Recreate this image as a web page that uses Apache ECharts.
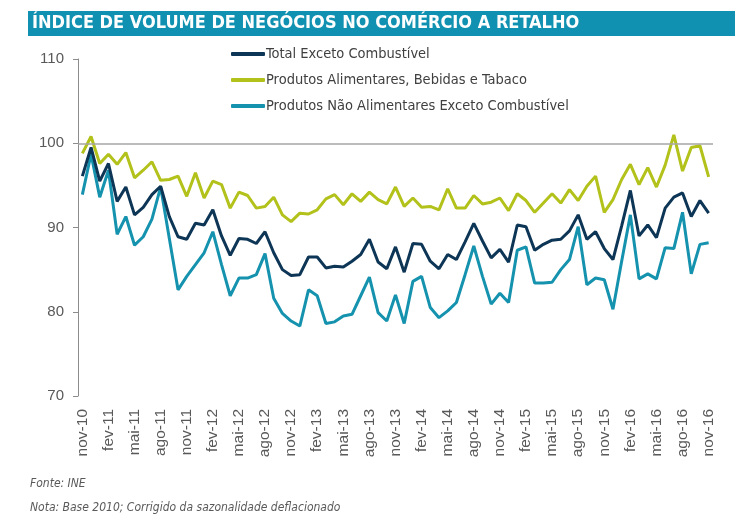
<!DOCTYPE html>
<html>
<head>
<meta charset="utf-8">
<script src="https://cdn.jsdelivr.net/npm/echarts@6/dist/echarts.min.js"></script>
<style>
html,body{margin:0;padding:0;background:#fff;}
#chart{width:742px;height:514px;}
</style>
</head>
<body>
<div id="chart"></div>
<script>
var monthNames = ['jan','fev','mar','abr','mai','jun','jul','ago','set','out','nov','dez'];
var startMonth = 10, startYear = 10, monthCount = 73;

var totalExceto = [96.1,99.5,95.5,97.6,93.1,94.8,91.5,92.4,93.9,94.9,91.3,88.9,88.6,90.5,90.3,92.1,89.0,86.7,88.7,88.6,88.1,89.5,87.0,85.0,84.3,84.4,86.5,86.5,85.2,85.4,85.3,86.0,86.8,88.6,85.9,85.1,87.7,84.7,88.1,88.0,86.0,85.1,86.8,86.2,88.3,90.5,88.4,86.4,87.4,85.9,90.3,90.1,87.3,88.0,88.5,88.6,89.6,91.5,88.6,89.5,87.5,86.2,90.2,94.4,89.0,90.3,88.8,92.3,93.6,94.1,91.3,93.2,91.7];
var alimentares = [98.8,100.8,97.6,98.7,97.5,98.9,95.9,96.8,97.8,95.6,95.7,96.1,93.7,96.5,93.5,95.5,95.1,92.3,94.2,93.8,92.3,92.5,93.6,91.5,90.7,91.7,91.6,92.1,93.4,93.9,92.7,94.0,93.1,94.2,93.3,92.8,94.8,92.5,93.5,92.4,92.5,92.1,94.6,92.3,92.3,93.8,92.8,93.0,93.5,92.0,94.0,93.2,91.8,92.9,94.0,92.9,94.5,93.2,94.9,96.1,91.8,93.3,95.7,97.5,95.1,97.1,94.8,97.4,101.0,96.7,99.5,99.7,96.0];
var naoAlimentares = [93.9,98.7,93.6,96.8,89.2,91.3,87.9,88.9,91.0,94.8,88.7,82.6,84.2,85.6,87.0,89.5,85.6,81.9,84.0,84.0,84.4,86.9,81.6,79.8,78.9,78.3,82.6,81.9,78.6,78.8,79.5,79.7,81.9,84.1,79.9,78.9,82.0,78.6,83.6,84.2,80.5,79.3,80.1,81.1,84.4,87.8,84.2,80.9,82.2,81.1,87.3,87.7,83.4,83.4,83.5,85.0,86.2,90.1,83.2,84.0,83.8,80.3,86.0,91.5,83.9,84.5,83.9,87.6,87.5,91.8,84.5,88.0,88.2];

var seriesNames = ['Total Exceto Combustível','Produtos Alimentares, Bebidas e Tabaco','Produtos Não Alimentares Exceto Combustível'];
var seriesColors = ['#0d3556','#b3c11b','#1592ae'];
var yTicks = {min:70, max:110, interval:10};
var titleText = 'ÍNDICE DE VOLUME DE NEGÓCIOS NO COMÉRCIO A RETALHO';
var sourceText = 'Fonte: INE';
var noteText = 'Nota: Base 2010; Corrigido da sazonalidade deflacionado';

var categories = [];
for (var k = 0; k < monthCount; k++) {
  var m = (startMonth + k) % 12;
  var y = startYear + Math.floor((startMonth + k) / 12);
  categories.push(monthNames[m] + '-' + y);
}

var narrow = "'Liberation Sans Narrow','DejaVu Sans Condensed','Liberation Sans',sans-serif";
var chart = echarts.init(document.getElementById('chart'), null, {renderer:'canvas'});
var option = {
  backgroundColor: '#fff',
  animation: false,
  graphic: [
    {type:'rect', left:28, top:11, shape:{width:707, height:25}, style:{fill:'#1191b1'}, silent:true},
    {type:'text', left:32, top:14, style:{text:titleText, fill:'#fff', font:"bold 18px " + narrow}},
    {type:'text', left:30, top:478, style:{text:sourceText, fill:'#595959', font:"italic 12px " + narrow}},
    {type:'text', left:30, top:502, style:{text:noteText, fill:'#595959', font:"italic 12px " + narrow}}
  ],
  legend: {
    orient: 'vertical',
    left: 226,
    top: 41,
    itemWidth: 34,
    itemHeight: 4,
    itemGap: 10,
    icon: 'roundRect',
    data: seriesNames,
    textStyle: {color:'#404040', fontSize:14.5, lineHeight:16, fontFamily:narrow, padding:[0,0,0,-4]}
  },
  grid: {left:78, top:59, width:635, height:337},
  xAxis: {
    type:'category',
    boundaryGap:true,
    data:categories,
    axisLine:{show:false},
    axisTick:{show:false},
    axisLabel:{interval:2, rotate:90, color:'#595959', fontSize:15.5, fontFamily:"'Liberation Sans',Arial,sans-serif", margin:13}
  },
  yAxis: {
    type:'value',
    min:yTicks.min, max:yTicks.max, interval:yTicks.interval,
    axisLine:{show:true, lineStyle:{color:'#8c8c8c', width:1}},
    axisTick:{show:true, inside:false, length:5, lineStyle:{color:'#8c8c8c'}},
    splitLine:{show:false},
    axisLabel:{color:'#595959', fontSize:15, fontFamily:"'Liberation Sans',Arial,sans-serif", margin:14}
  },
  series: [
    {name:seriesNames[1], type:'line', data:alimentares, showSymbol:false, color:seriesColors[1], lineStyle:{width:3, color:seriesColors[1]},
     markLine:{silent:true, symbol:'none', label:{show:false}, lineStyle:{color:'#a6a6a6', width:1.5, type:'solid'}, data:[{yAxis:100}]}},
    {name:seriesNames[2], type:'line', data:naoAlimentares, showSymbol:false, color:seriesColors[2], lineStyle:{width:3, color:seriesColors[2]}},
    {name:seriesNames[0], type:'line', data:totalExceto, showSymbol:false, color:seriesColors[0], lineStyle:{width:3, color:seriesColors[0]}}
  ]
};
chart.setOption(option);
</script>
</body>
</html>
